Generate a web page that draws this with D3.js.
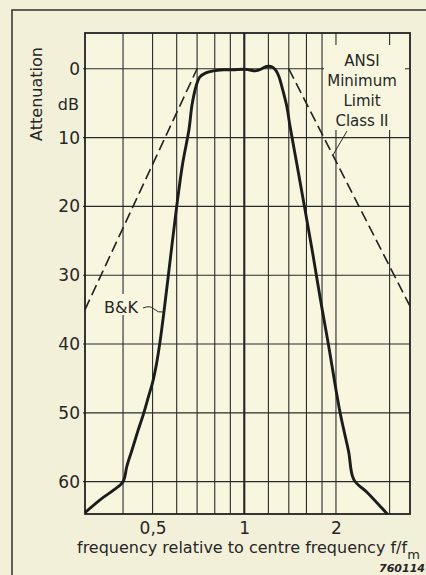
<!DOCTYPE html>
<html>
  <head>
    <meta charset="utf-8">
    <title>Filter attenuation</title>
    <script src="https://d3js.org/d3.v7.min.js"></script>
    <style>
      body { margin: 0; background: #f3f0da; }
      svg text { font-family: "DejaVu Sans", sans-serif; fill: #262626; }
    </style>
  </head>
  <body>
    <div id="chart"></div>
    <script>
      // grid and tick values
      var freqGrid = [0.4, 0.5, 0.6, 0.7, 0.8, 0.9, 1, 1.2, 1.4, 1.6, 1.8, 2, 3];
      var dbGrid = [0, 10, 20, 30, 40, 50, 60];
      var xTickValues = [0.5, 1, 2];
      var xTickLabels = ["0,5", "1", "2"];

      // B&K filter response
      var bkFreq = [0.3, 0.337, 0.373, 0.4, 0.412, 0.428, 0.447, 0.468, 0.485, 0.5,
                    0.515, 0.53, 0.546, 0.562, 0.579, 0.6, 0.628, 0.658, 0.674, 0.695,
                    0.714, 0.748, 0.792, 0.851, 0.916, 1.0, 1.036, 1.087, 1.134, 1.167,
                    1.2, 1.236, 1.273, 1.301, 1.329, 1.38, 1.41, 1.486, 1.576, 1.68,
                    1.775, 1.883, 2.064, 2.2, 2.289, 2.538, 2.907, 2.95];
      var bkDb = [64.5, 62.6, 61.2, 60.0, 57.7, 55.4, 52.7, 50.0, 47.6, 45.6,
                  42.9, 39.4, 35.0, 30.4, 25.6, 20.0, 13.7, 8.9, 5.2, 2.5,
                  1.2, 0.6, 0.3, 0.15, 0.15, 0.07, 0.15, 0.3, 0.07, -0.25,
                  -0.36, -0.26, 0.3, 1.2, 2.6, 5.5, 8.1, 13.7, 20.0, 27.0,
                  33.3, 39.7, 50.0, 55.6, 59.7, 61.6, 64.4, 64.7];

      // ANSI minimum limit class II (two dashed flanks)
      var ansiLowFreq = [0.3, 0.7], ansiLowDb = [35, 0];
      var ansiHighFreq = [1.4, 3.5], ansiHighDb = [0, 34.5];

      var W = 426, H = 575;
      var plotL = 85, plotR = 410, plotT = 33, plotB = 514;

      var x = d3.scaleLog().domain([0.3, 3.5]).range([plotL, plotR]);
      var y = d3.scaleLinear().domain([-5.2, 64.7]).range([plotT, plotB]);

      var svg = d3.select("#chart").append("svg")
        .attr("width", W).attr("height", H);

      // outer frame (runs off the page on the right and bottom)
      svg.append("path")
        .attr("d", "M12,580 L12,10 L430,10")
        .attr("fill", "none").attr("stroke", "#2e2e2e").attr("stroke-width", 1.5);

      svg.append("rect")
        .attr("x", plotL).attr("y", plotT)
        .attr("width", plotR - plotL).attr("height", plotB - plotT)
        .attr("fill", "#f8f6df");

      // grid
      svg.append("g").selectAll("line")
        .data(freqGrid).enter().append("line")
        .attr("x1", function(d) { return x(d); }).attr("x2", function(d) { return x(d); })
        .attr("y1", plotT).attr("y2", plotB)
        .attr("stroke", "#2a2a2a")
        .attr("stroke-width", function(d) { return d === 1 ? 2.2 : 1.1; });

      svg.append("g").selectAll("line")
        .data(dbGrid).enter().append("line")
        .attr("x1", plotL - 2).attr("x2", plotR)
        .attr("y1", function(d) { return y(d); }).attr("y2", function(d) { return y(d); })
        .attr("stroke", "#2a2a2a").attr("stroke-width", 1.1);

      // blanks behind the labels
      svg.append("rect").attr("x", 324).attr("y", 45).attr("width", 81).attr("height", 85)
        .attr("fill", "#f8f6df");
      svg.append("rect").attr("x", 101).attr("y", 294).attr("width", 44).attr("height", 21)
        .attr("fill", "#f8f6df");

      svg.append("rect")
        .attr("x", plotL).attr("y", plotT)
        .attr("width", plotR - plotL).attr("height", plotB - plotT)
        .attr("fill", "none").attr("stroke", "#222").attr("stroke-width", 1.8);

      var line = d3.line()
        .x(function(d) { return x(d[0]); })
        .y(function(d) { return y(d[1]); });

      svg.append("path")
        .datum(d3.zip(ansiLowFreq, ansiLowDb))
        .attr("d", line)
        .attr("fill", "none").attr("stroke", "#222")
        .attr("stroke-width", 1.6).attr("stroke-dasharray", "11,5");

      svg.append("path")
        .datum(d3.zip(ansiHighFreq, ansiHighDb))
        .attr("d", line)
        .attr("fill", "none").attr("stroke", "#222")
        .attr("stroke-width", 1.6).attr("stroke-dasharray", "11,5");

      var smooth = d3.line()
        .x(function(d) { return x(d[0]); })
        .y(function(d) { return y(d[1]); })
        .curve(d3.curveCatmullRom.alpha(0.5));

      svg.append("path")
        .datum(d3.zip(bkFreq, bkDb))
        .attr("d", smooth)
        .attr("fill", "none").attr("stroke", "#1c1c1c")
        .attr("stroke-width", 2.9).attr("stroke-linejoin", "round");

      // axes (labels only)
      var yAxis = svg.append("g")
        .attr("transform", "translate(" + (plotL - 5) + ",0)")
        .call(d3.axisLeft(y).tickValues(dbGrid).tickSize(0).tickPadding(0));
      yAxis.select(".domain").remove();
      yAxis.selectAll("text")
        .style("font-size", "17px").style("font-family", "DejaVu Sans").attr("fill", "#262626");

      var xAxis = svg.append("g")
        .attr("transform", "translate(0," + (plotB + 8) + ")")
        .call(d3.axisBottom(x).tickValues(xTickValues)
          .tickFormat(function(d, i) { return xTickLabels[i]; })
          .tickSize(0).tickPadding(0));
      xAxis.select(".domain").remove();
      xAxis.selectAll("text")
        .style("font-size", "17px").style("font-family", "DejaVu Sans").attr("fill", "#262626");

      svg.append("text")
        .attr("transform", "translate(42,94) rotate(-90)")
        .attr("text-anchor", "middle")
        .style("font-size", "16px")
        .text("Attenuation");

      svg.append("text")
        .attr("x", 79).attr("y", 110)
        .attr("text-anchor", "end")
        .style("font-size", "16px")
        .text("dB");

      var xt = svg.append("text")
        .attr("x", 77).attr("y", 553)
        .style("font-size", "16px")
        .text("frequency relative to centre frequency f/f");
      xt.append("tspan").attr("dy", 6).style("font-size", "13px").text("m");

      svg.append("text")
        .attr("x", 425).attr("y", 572)
        .attr("text-anchor", "end")
        .style("font-size", "11px").style("font-weight", "bold").style("font-style", "italic")
        .text("760114");

      // annotations
      var ansiLines = ["ANSI", "Minimum", "Limit", "Class II"];
      svg.append("g").selectAll("text")
        .data(ansiLines).enter().append("text")
        .attr("x", 362)
        .attr("y", function(d, i) { return 66 + i * 20; })
        .attr("text-anchor", "middle")
        .style("font-size", "15px")
        .text(function(d) { return d; });

      svg.append("line")
        .attr("x1", 347).attr("y1", 131).attr("x2", 333).attr("y2", 155)
        .attr("stroke", "#2a2a2a").attr("stroke-width", 1);

      svg.append("text")
        .attr("x", 104).attr("y", 313)
        .style("font-size", "16px")
        .text("B&K");

      svg.append("path")
        .attr("d", "M143,308 Q150,305 154,309 T163,312")
        .attr("fill", "none").attr("stroke", "#2a2a2a").attr("stroke-width", 1);
    </script>
  </body>
</html>
